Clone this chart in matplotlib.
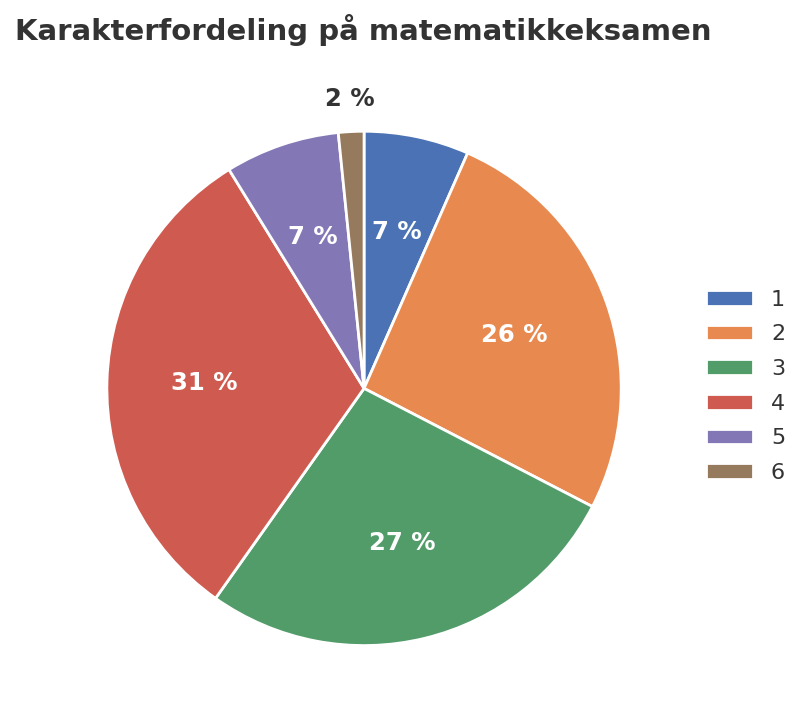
import matplotlib
matplotlib.use("Agg")
import matplotlib.pyplot as plt
import numpy as np

grades = ["1", "2", "3", "4", "5", "6"]
shares = [6.6, 26.0, 27.2, 31.4, 7.2, 1.6]

colors = ["#4A72B4", "#E8894F", "#529C6A", "#CF5A50", "#8477B6", "#967A5E"]

fig = plt.figure(figsize=(8.09, 7.26), dpi=100)
ax = fig.add_axes([0.0, 0.0, 0.9, 0.93])

R = 0.876
wedges, texts, autotexts = ax.pie(
    shares, colors=colors, startangle=90, counterclock=False,
    autopct=lambda p: f"{p:.0f} %", pctdistance=0.62,
    wedgeprops=dict(edgecolor="white", linewidth=2),
    textprops=dict(color="white", fontsize=17.5, fontweight="bold"),
    radius=R,
)
for w, t, v in zip(wedges, autotexts, shares):
    if v < 3:
        ang = np.deg2rad((w.theta1 + w.theta2) / 2)
        t.set_position((1.125 * R * np.cos(ang), 1.125 * R * np.sin(ang)))
        t.set_color("#333333")
ax.set_aspect("equal")
ax.set_xlim(-1.0, 1.0)
ax.set_ylim(-1.15, 1.15)

fig.text(0.019, 0.958, "Karakterfordeling på matematikkeksamen",
         fontsize=21, fontweight="bold", color="#333333", ha="left", va="center")

leg = fig.legend(wedges, grades, loc="center left", bbox_to_anchor=(0.848, 0.468),
                 frameon=False, fontsize=16, handlelength=2.12, handleheight=0.7,
                 labelspacing=0.66, handletextpad=0.8)
for t in leg.get_texts():
    t.set_color("#333333")

fig.savefig("out.png", dpi=100)
